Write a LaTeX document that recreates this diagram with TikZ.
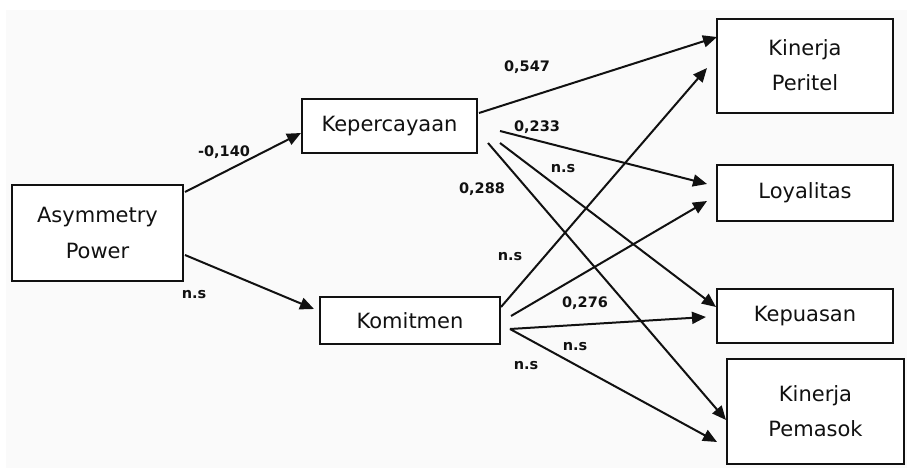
\documentclass[tikz,border=0pt]{standalone}
\usepackage{fontspec}
\setmainfont{DejaVu Sans}
\usetikzlibrary{arrows.meta,calc}
\definecolor{bgc}{HTML}{FAFAFA}
\definecolor{ink}{HTML}{111111}
\tikzset{
  box/.style={draw=ink,line width=2pt,fill=white,inner sep=0pt,align=center,
    font=\fontsize{21}{36}\selectfont,text=ink},
  conn/.style={draw=ink,line width=2pt,-{Triangle[length=14pt,width=12pt]}},
  coef/.style={font=\bfseries\fontsize{14.5}{16}\selectfont,text=ink,inner sep=0pt}
}
\begin{document}
\begin{tikzpicture}[x=1pt,y=-1pt]
\useasboundingbox (0,0) rectangle (907,473);
\fill[bgc] (6,10) rectangle (907,468);
% boxes
\node[box,minimum width=171pt,minimum height=96pt] (ap) at (97.5,233) {Asymmetry\\Power};
\node[box,minimum width=175pt,minimum height=54pt] (kep) at (389.5,126) {Kepercayaan};
\node[box,minimum width=180pt,minimum height=47pt] (kom) at (410,320.5) {\raisebox{-4pt}{Komitmen}};
\node[box,minimum width=176pt,minimum height=94pt] (kp) at (805,66) {\raisebox{2pt}{\begin{tabular}{@{}c@{}}Kinerja\\[-1pt]Peritel\end{tabular}}};
\node[box,minimum width=176pt,minimum height=56pt] (loy) at (805,193) {Loyalitas};
\node[box,minimum width=176pt,minimum height=54pt] (kepu) at (805,316) {Kepuasan};
\node[box,minimum width=177pt,minimum height=105pt] (pem) at (815.5,411.5) {\raisebox{8pt}{\begin{tabular}{@{}c@{}}Kinerja\\[-1pt]Pemasok\end{tabular}}};
% connectors
\draw[conn] ($(ap.east)+(1,-41)$) -- ($(kep.west)+(0,7)$);
\draw[conn] ($(ap.east)+(1,22)$) -- ($(kom.west)+(-5,-11.5)$);
\draw[conn] ($(kep.east)+(1,-13)$) -- ($(kp.west)+(1,-29)$);
\draw[conn] ($(kep.east)+(22,5)$) -- ($(loy.west)+(-9,-9)$);
\draw[conn] ($(kep.east)+(22,17)$) -- ($(kepu.west)+(0,-9)$);
\draw[conn] ($(kep.east)+(10,17)$) -- ($(pem.west)+(0,8.5)$);
\draw[conn] ($(kom.east)+(0,-13.5)$) -- ($(kp.west)+(-9,2)$);
\draw[conn] ($(kom.east)+(10,-4.5)$) -- ($(loy.west)+(-9,8)$);
\draw[conn] ($(kom.east)+(9,8.5)$) -- ($(kepu.west)+(-10,1)$);
\draw[conn] ($(kom.east)+(9,8.5)$) -- ($(pem.west)+(-9,30.5)$);
% coefficients
\node[coef] (c1) at (224,152) {-0,140};
\node[coef] (c2) at (194,295) {n.s};
\node[coef] (c3) at (527,67) {0,547};
\node[coef] (c4) at (537,127) {0,233};
\node[coef] (c5) at (563,169) {n.s};
\node[coef] (c6) at (482,189) {0,288};
\node[coef] (c7) at (510,257) {n.s};
\node[coef] (c8) at (585,303) {0,276};
\node[coef] (c9) at (575,347) {n.s};
\node[coef] (c10) at (526,366) {n.s};
\end{tikzpicture}
\end{document}
